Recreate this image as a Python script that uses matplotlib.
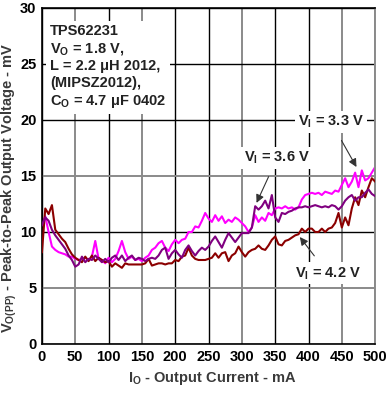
import numpy as np
import matplotlib
matplotlib.use("Agg")
import matplotlib.pyplot as plt

plt.rcParams['font.family'] = ['Liberation Sans', 'DejaVu Sans']
plt.rcParams['mathtext.fontset'] = 'custom'
plt.rcParams['mathtext.rm'] = 'Liberation Sans:bold'
plt.rcParams['mathtext.it'] = 'Liberation Sans:bold'
plt.rcParams['mathtext.bf'] = 'Liberation Sans:bold'

current_ma = np.arange(0, 505, 5)

vpp_33 = [10.7, 11.4, 10.0, 8.7, 8.4, 8.2, 8.1, 8.0, 7.8, 7.8,
          7.6, 7.5, 7.6, 7.7, 7.5, 7.8, 9.2, 7.6, 7.5, 7.2,
          7.7, 7.3, 7.6, 8.3, 9.2, 8.2, 7.6, 7.8, 7.5, 7.6,
          7.4, 7.7, 7.9, 8.4, 8.6, 9.0, 9.2, 8.6, 8.3, 8.9,
          9.3, 9.0, 9.3, 9.4, 10.0, 10.0, 10.5, 10.4, 11.0, 11.7,
          11.2, 10.9, 11.5, 11.0, 11.4, 10.8, 11.1, 10.9, 11.3, 11.1,
          10.8, 10.5, 10.0, 10.4, 11.5, 10.9, 11.3, 11.0, 11.7, 11.5,
          12.1, 12.2, 12.1, 12.3, 12.1, 12.2, 12.0, 12.2, 12.9, 13.3,
          13.4, 13.5, 13.4, 13.5, 13.3, 13.6, 13.5, 13.4, 13.7, 13.6,
          14.2, 14.8, 14.0, 14.5, 15.3, 14.0, 15.5, 14.6, 14.8, 15.3,
          15.8]

vpp_36 = [10.6, 11.3, 11.0, 10.2, 9.7, 9.3, 8.9, 8.5, 7.9, 7.5,
          6.9, 7.1, 7.8, 7.3, 7.6, 7.5, 7.9, 7.6, 7.3, 7.6,
          7.3, 7.7, 7.9, 7.5, 7.9, 7.4, 7.7, 7.9, 7.5, 7.7,
          7.6, 7.4, 7.6, 7.7, 7.6, 7.9, 8.4, 8.6, 7.6, 8.1,
          8.4, 8.0, 7.7, 8.4, 8.8, 8.3, 7.9, 8.3, 8.6, 8.4,
          8.7, 9.2, 9.6, 9.1, 8.6, 9.3, 9.9, 9.5, 9.1, 9.5,
          9.9, 9.9, 9.9, 10.4, 12.3, 12.0, 12.3, 12.8, 12.1, 13.3,
          11.3, 10.9, 11.7, 11.6, 11.8, 11.9, 12.1, 12.2, 12.2, 12.3,
          12.2, 12.3, 12.4, 12.3, 12.2, 12.3, 12.2, 12.4, 12.3, 12.0,
          12.3, 12.8, 13.1, 13.3, 12.8, 13.1, 13.1, 13.5, 13.8, 13.4,
          13.2]

vpp_42 = [8.2, 12.1, 11.6, 12.4, 10.2, 9.8, 9.4, 9.1, 8.5, 8.0,
          7.7, 7.5, 7.3, 7.8, 7.4, 7.9, 7.4, 7.7, 7.5, 7.3,
          7.4, 6.9, 7.2, 7.0, 6.8, 7.2, 7.1, 7.1, 7.1, 7.1,
          7.1, 7.2, 7.6, 7.0, 7.1, 7.2, 7.2, 7.1, 7.2, 7.2,
          7.5, 7.4, 7.8, 7.9, 8.6, 7.9, 7.6, 7.5, 7.5, 7.5,
          7.6, 7.7, 8.1, 7.7, 8.1, 8.2, 7.4, 7.9, 8.1, 8.7,
          8.2, 7.8, 8.2, 8.4, 8.5, 8.8, 8.5, 8.4, 8.8, 9.3,
          9.6, 8.9, 8.8, 9.2, 9.3, 9.5, 9.7, 9.8, 10.3, 10.0,
          10.3, 10.3, 10.0, 10.0, 10.3, 10.0, 10.3, 10.4, 10.8, 11.7,
          10.4, 11.3, 10.6, 12.1, 13.1, 12.4, 13.7, 13.1, 14.0, 14.8,
          14.5]

x_ticks = [0, 50, 100, 150, 200, 250, 300, 350, 400, 450, 500]
y_ticks = [0, 5, 10, 15, 20, 25, 30]

fig = plt.figure(figsize=(3.92, 3.93), dpi=100)
ax = fig.add_axes([0.107, 0.1247, 0.850, 0.855])
ax.set_xlim(0, 500)
ax.set_ylim(0, 30)

gray_x = {50, 150, 300, 450, 500}
gray_y = {5, 15}
for xv in x_ticks:
    if xv in gray_x:
        ax.axvline(xv, color='#8a8a8a', lw=1.4, zorder=1)
    else:
        ax.axvline(xv, color='black', lw=1.0, zorder=1)
for yv in y_ticks:
    if yv in gray_y:
        ax.axhline(yv, color='#8a8a8a', lw=1.4, zorder=1)
    else:
        ax.axhline(yv, color='black', lw=1.0, zorder=1)

ax.plot(current_ma, vpp_42, color='#8B0000', lw=1.5, zorder=3)
ax.plot(current_ma, vpp_36, color='#800080', lw=1.5, zorder=4)
ax.plot(current_ma, vpp_33, color='#FF00FF', lw=1.5, zorder=2)

for s in ['top', 'left', 'bottom']:
    ax.spines[s].set_color('black')
    ax.spines[s].set_linewidth(1.2)
ax.spines['right'].set_color('#8a8a8a')
ax.spines['right'].set_linewidth(1.4)

ax.set_xticks(x_ticks)
ax.set_yticks(y_ticks)
ax.tick_params(length=0, pad=4, labelsize=10.5)
for lab in ax.get_xticklabels() + ax.get_yticklabels():
    lab.set_fontweight('bold')

ax.set_xlabel(r'I$_\mathregular{O}$ - Output Current - mA', fontsize=10.5,
              fontweight='bold', color='#3a3a3a')
ax.xaxis.set_label_coords(0.51, -0.076)
ax.set_ylabel(r'V$_\mathregular{O(PP)}$ - Peak-to-Peak Output Voltage - mV', fontsize=10.5,
              fontweight='bold', color='#3a3a3a')
ax.yaxis.set_label_coords(-0.068, 0.465)

box_text = ('TPS62231\n'
            r'V$_\mathregular{O}$ = 1.8 V,' '\n'
            'L = 2.2 \u03bcH 2012,\n'
            '(MIPSZ2012),\n'
            r'C$_\mathregular{O}$ = 4.7 $\mathregular{\mu}$F 0402')
ax.text(12, 28.6, box_text, fontsize=10.5, fontweight='bold', color='#222222',
        va='top', ha='left', linespacing=1.25, zorder=6,
        bbox=dict(facecolor='white', edgecolor='none', pad=3))

ann_kw = dict(fontsize=10.5, fontweight='bold', color='#222222', ha='center', va='center',
              zorder=7, bbox=dict(facecolor='white', edgecolor='none', pad=2),
              arrowprops=dict(arrowstyle='-|>', color='#333333', lw=0.8,
                              mutation_scale=12, shrinkA=6, shrinkB=0))
ax.annotate(r'V$_\mathregular{I}$ = 3.3 V', xy=(472, 15.8), xytext=(434, 19.8), **ann_kw)
ax.annotate(r'V$_\mathregular{I}$ = 3.6 V', xy=(322, 12.6), xytext=(353, 16.6), **ann_kw)
ax.annotate(r'V$_\mathregular{I}$ = 4.2 V', xy=(387, 9.55), xytext=(429, 6.3), **ann_kw)

fig.savefig('out.png', dpi=100)
